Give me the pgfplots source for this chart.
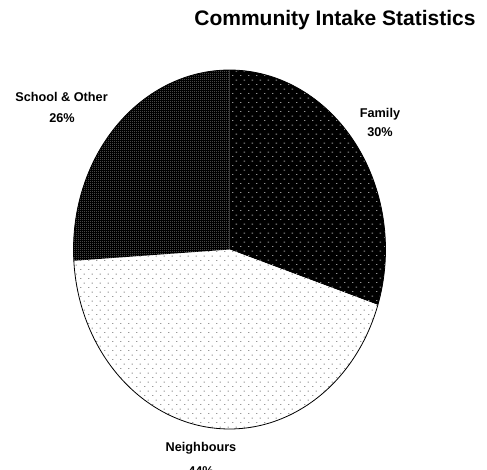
\documentclass[border=0pt]{standalone}
\usepackage{fontspec}
\setmainfont{Liberation Sans}
\usepackage{pgfplots}
\usepackage{pgfplotstable}
\pgfplotsset{compat=1.18}
\usetikzlibrary{patterns,patterns.meta}

\tikzdeclarepattern{
  name=sparsedots,
  type=uncolored,
  bottom left={(0pt,0pt)},
  top right={(8pt,9.4pt)},
  tile size={(8pt,9.4pt)},
  code={
    \fill (0pt,0pt) rectangle (1.6pt,1pt);
    \fill (4pt,4.7pt) rectangle (5.6pt,5.7pt);
  }
}
\tikzdeclarepattern{
  name=finecheck,
  type=uncolored,
  bottom left={(0pt,0pt)},
  top right={(2pt,2pt)},
  tile size={(2pt,2pt)},
  code={
    \fill (0pt,0pt) rectangle (1pt,1pt);
  }
}

\pgfplotstableread{
label value
Family 30
Neighbours 44
School 26
}\piedata

\begin{document}%
\begin{tikzpicture}
\pgfplotstablegetelem{0}{value}\of\piedata \let\vA\pgfplotsretval
\pgfplotstablegetelem{1}{value}\of\piedata \let\vB\pgfplotsretval
\pgfplotstablegetelem{2}{value}\of\piedata \let\vC\pgfplotsretval
\pgfmathsetmacro\aA{90}
\pgfmathsetmacro\aB{\aA-3.6*\vA}
\pgfmathsetmacro\aC{\aB-3.6*\vB}
\pgfmathsetmacro\aD{\aC-3.6*\vC}
\begin{axis}[
  at={(229.5pt,219.5pt)}, anchor=center,
  scale only axis, width=312pt, height=359pt,
  xmin=-1, xmax=1, ymin=-1, ymax=1,
  hide axis, clip=false]
% Family
\addplot[draw=none, fill=black, postaction={pattern=sparsedots, pattern color=gray!85},
  domain=\aB:\aA, samples=90] ({cos(x)},{sin(x)}) -- (axis cs:0,0) -- cycle;
% Neighbours
\addplot[draw=none, fill=white, postaction={pattern=sparsedots, pattern color=gray!80},
  domain=\aC:\aB, samples=120] ({cos(x)},{sin(x)}) -- (axis cs:0,0) -- cycle;
% School & Other
\addplot[draw=none, fill=black, postaction={pattern=finecheck, pattern color=gray!70},
  domain=\aD:\aC, samples=90] ({cos(x)},{sin(x)}) -- (axis cs:0,0) -- cycle;
% outline
\addplot[black, line width=0.8pt, domain=0:360, samples=241] ({cos(x)},{sin(x)});
\end{axis}
\node[anchor=base, inner sep=0pt, font=\fontsize{21}{25}\selectfont\bfseries] at (335pt,443pt) {Community Intake Statistics};
\node[anchor=base, inner sep=0pt, font=\fontsize{12.7}{15}\selectfont\bfseries] at (61.5pt,367.5pt) {School \& Other};
\node[anchor=base, inner sep=0pt, font=\fontsize{12.7}{15}\selectfont\bfseries] at (62pt,346.5pt) {26\%};
\node[anchor=base, inner sep=0pt, font=\fontsize{12.7}{15}\selectfont\bfseries] at (380pt,351.5pt) {Family};
\node[anchor=base, inner sep=0pt, font=\fontsize{12.7}{15}\selectfont\bfseries] at (380pt,332.5pt) {30\%};
\node[anchor=base, inner sep=0pt, font=\fontsize{12.7}{15}\selectfont\bfseries] at (201pt,18pt) {Neighbours};
\node[anchor=base, inner sep=0pt, font=\fontsize{12.7}{15}\selectfont\bfseries] at (201pt,-6pt) {44\%};
\pgfresetboundingbox
\path[use as bounding box] (0pt,0pt) rectangle (487pt,469pt);
\end{tikzpicture}%
\end{document}
